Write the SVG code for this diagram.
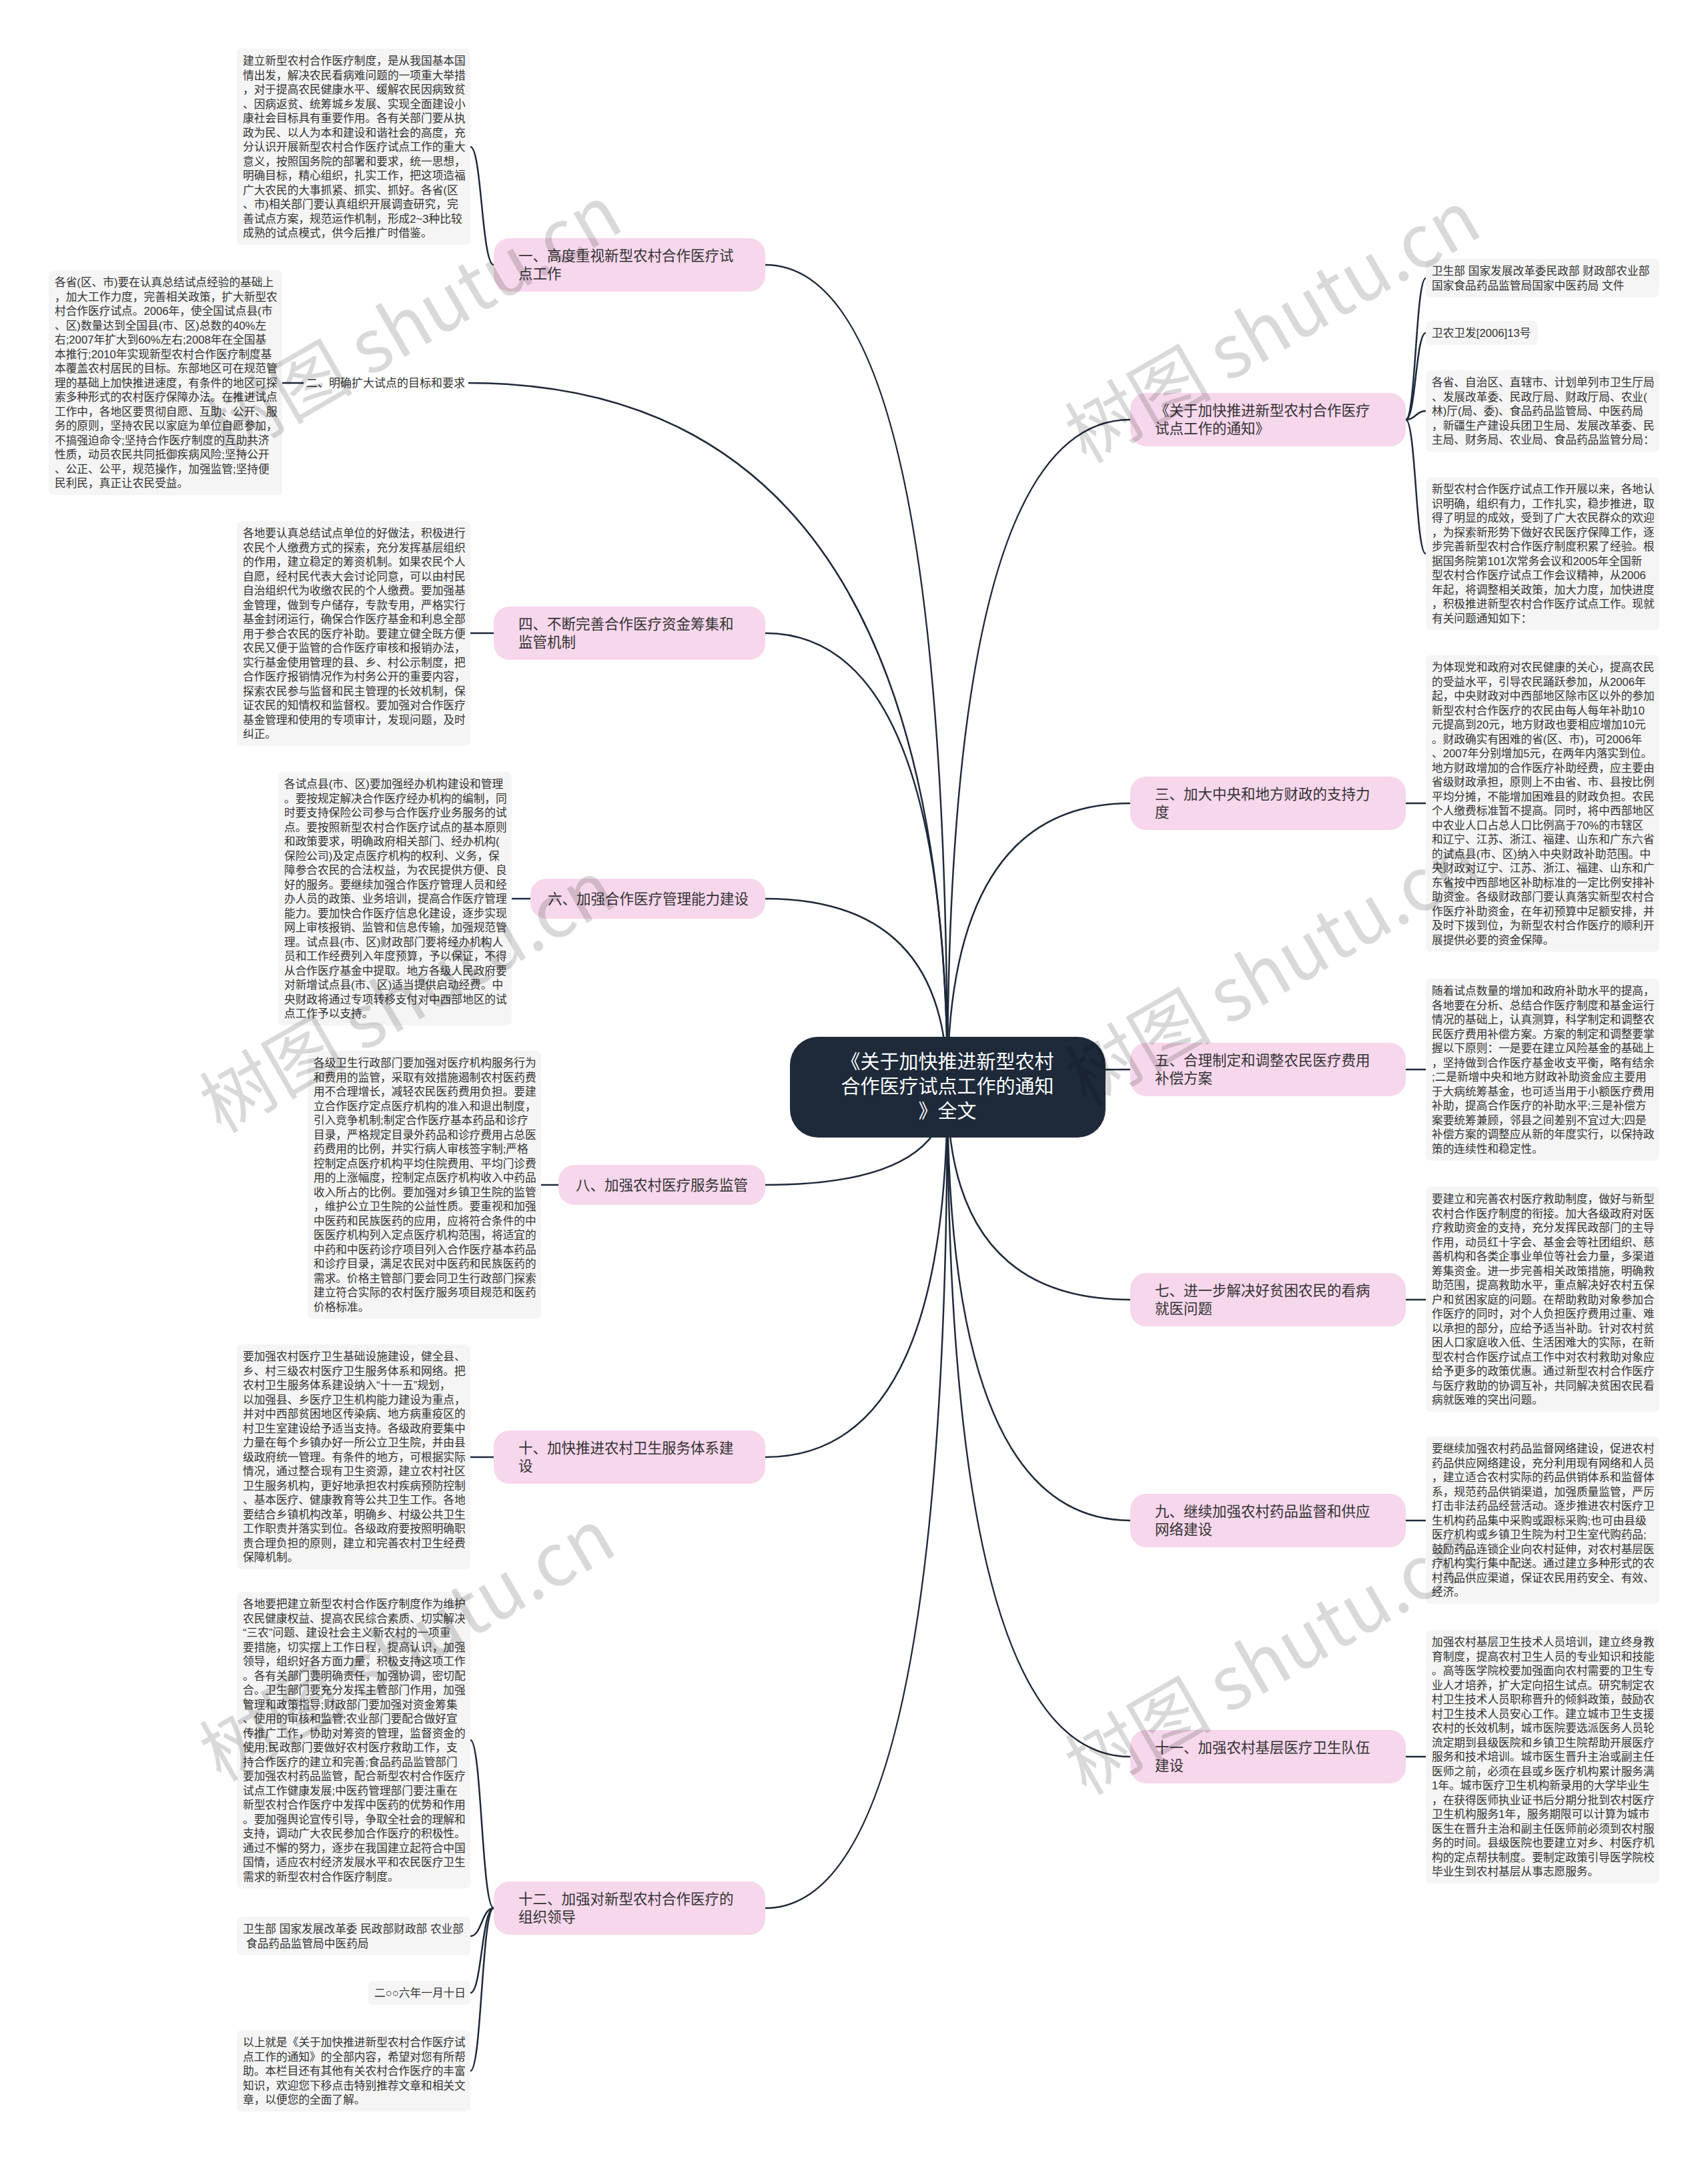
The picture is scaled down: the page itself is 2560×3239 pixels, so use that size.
<svg xmlns="http://www.w3.org/2000/svg" width="2560" height="3239" viewBox="0 0 2560 3239">
<defs>
<style>
.bg{fill:#ffffff}
.blk{fill:#f5f5f5}
.bt{font-family:'Liberation Sans','Noto Sans CJK SC',sans-serif;font-size:16.7px;fill:#333333}
.nd{fill:#f7d7ec}
.nt{font-family:'Liberation Sans','Noto Sans CJK SC',sans-serif;font-size:21.5px;fill:#333333}
.cn{fill:#1e2a3a}
.ct{font-family:'Liberation Sans','Noto Sans CJK SC',sans-serif;font-size:29px;fill:#ffffff;text-anchor:middle}
.ln{fill:none;stroke:#1e2a3a;stroke-width:2.5}
.wm{font-family:'Noto Sans CJK SC',sans-serif;font-size:110px;fill:#000000;fill-opacity:0.15}
</style>
</defs>
<rect class="bg" x="0" y="0" width="2560" height="3239"/>

<g id="connectors">
<path class="ln" d="M1420,1630 Q1420,397 1147,397"/>
<path class="ln" d="M1420,1630 Q1420,574 702,574"/>
<path class="ln" d="M1420,1630 Q1420,949 1147,949"/>
<path class="ln" d="M1420,1630 Q1420,1347 1147,1347"/>
<path class="ln" d="M1420,1630 Q1420,1776 1147,1776"/>
<path class="ln" d="M1420,1630 Q1420,2184 1147,2184"/>
<path class="ln" d="M1420,1630 Q1420,2860 1147,2860"/>
<path class="ln" d="M1420,1630 Q1420,629 1694,629"/>
<path class="ln" d="M1420,1630 Q1420,1204 1694,1204"/>
<path class="ln" d="M1420,1630 Q1420,1603 1694,1603"/>
<path class="ln" d="M1420,1630 Q1420,1948 1694,1948"/>
<path class="ln" d="M1420,1630 Q1420,2279 1694,2279"/>
<path class="ln" d="M1420,1630 Q1420,2633 1694,2633"/>
<path class="ln" d="M740,397 C722,397 722,220 705,220"/>
<path class="ln" d="M455,574 L423,574"/>
<path class="ln" d="M740,949 L705,949"/>
<path class="ln" d="M795,1347 L767,1347"/>
<path class="ln" d="M837,1776 L811,1776"/>
<path class="ln" d="M740,2184 L705,2184"/>
<path class="ln" d="M740,2860 C722,2860 722,2608 705,2608"/>
<path class="ln" d="M740,2860 C722,2860 722,2902 705,2902"/>
<path class="ln" d="M740,2860 C722,2860 722,2987 705,2987"/>
<path class="ln" d="M740,2860 C722,2860 722,3104 705,3104"/>
<path class="ln" d="M2107,629 C2122,629 2122,417 2137,417"/>
<path class="ln" d="M2107,629 C2122,629 2122,499 2137,499"/>
<path class="ln" d="M2107,629 C2122,629 2122,616 2137,616"/>
<path class="ln" d="M2107,629 C2122,629 2122,830 2137,830"/>
<path class="ln" d="M2107,1204 L2137,1204"/>
<path class="ln" d="M2107,1603 L2137,1603"/>
<path class="ln" d="M2107,1948 L2137,1948"/>
<path class="ln" d="M2107,2279 L2137,2279"/>
<path class="ln" d="M2107,2633 L2137,2633"/>
</g>

<g id="center">
<rect class="cn" x="1184" y="1554" width="473" height="151" rx="42"/>
<text class="ct"><tspan x="1420" y="1602">《关于加快推进新型农村</tspan><tspan x="1420" y="1639">合作医疗试点工作的通知</tspan><tspan x="1420" y="1676">》全文</tspan></text>
</g>

<g id="n1">
<rect class="nd" x="740" y="357" width="407" height="80" rx="24"/>
<text class="nt"><tspan x="777" y="391">一、高度重视新型农村合作医疗试</tspan><tspan x="777" y="418">点工作</tspan></text>
</g>
<g id="n1-t">
<rect class="blk" x="355" y="73" width="350" height="294" rx="7"/>
<text class="bt"><tspan x="364" y="97">建立新型农村合作医疗制度，是从我国基本国</tspan><tspan x="364" dy="21.5">情出发，解决农民看病难问题的一项重大举措</tspan><tspan x="364" dy="21.5">，对于提高农民健康水平、缓解农民因病致贫</tspan><tspan x="364" dy="21.5">、因病返贫、统筹城乡发展、实现全面建设小</tspan><tspan x="364" dy="21.5">康社会目标具有重要作用。各有关部门要从执</tspan><tspan x="364" dy="21.5">政为民、以人为本和建设和谐社会的高度，充</tspan><tspan x="364" dy="21.5">分认识开展新型农村合作医疗试点工作的重大</tspan><tspan x="364" dy="21.5">意义，按照国务院的部署和要求，统一思想，</tspan><tspan x="364" dy="21.5">明确目标，精心组织，扎实工作，把这项造福</tspan><tspan x="364" dy="21.5">广大农民的大事抓紧、抓实、抓好。各省(区</tspan><tspan x="364" dy="21.5">、市)相关部门要认真组织开展调查研究，完</tspan><tspan x="364" dy="21.5">善试点方案，规范运作机制，形成2~3种比较</tspan><tspan x="364" dy="21.5">成熟的试点模式，供今后推广时借鉴。</tspan></text>
</g>

<g id="n2">
<text class="bt" style="font-size:17px"><tspan x="459" y="580">二、明确扩大试点的目标和要求</tspan></text>
</g>
<g id="n2-t">
<rect class="blk" x="73" y="405" width="350" height="337" rx="7"/>
<text class="bt"><tspan x="82" y="429">各省(区、市)要在认真总结试点经验的基础上</tspan><tspan x="82" dy="21.5">，加大工作力度，完善相关政策，扩大新型农</tspan><tspan x="82" dy="21.5">村合作医疗试点。2006年，使全国试点县(市</tspan><tspan x="82" dy="21.5">、区)数量达到全国县(市、区)总数的40%左</tspan><tspan x="82" dy="21.5">右;2007年扩大到60%左右;2008年在全国基</tspan><tspan x="82" dy="21.5">本推行;2010年实现新型农村合作医疗制度基</tspan><tspan x="82" dy="21.5">本覆盖农村居民的目标。东部地区可在规范管</tspan><tspan x="82" dy="21.5">理的基础上加快推进速度，有条件的地区可探</tspan><tspan x="82" dy="21.5">索多种形式的农村医疗保障办法。在推进试点</tspan><tspan x="82" dy="21.5">工作中，各地区要贯彻自愿、互助、公开、服</tspan><tspan x="82" dy="21.5">务的原则，坚持农民以家庭为单位自愿参加，</tspan><tspan x="82" dy="21.5">不搞强迫命令;坚持合作医疗制度的互助共济</tspan><tspan x="82" dy="21.5">性质，动员农民共同抵御疾病风险;坚持公开</tspan><tspan x="82" dy="21.5">、公正、公平，规范操作，加强监管;坚持便</tspan><tspan x="82" dy="21.5">民利民，真正让农民受益。</tspan></text>
</g>

<g id="n4">
<rect class="nd" x="740" y="909" width="407" height="80" rx="24"/>
<text class="nt"><tspan x="777" y="943">四、不断完善合作医疗资金筹集和</tspan><tspan x="777" y="970">监管机制</tspan></text>
</g>
<g id="n4-t">
<rect class="blk" x="355" y="781" width="350" height="337" rx="7"/>
<text class="bt"><tspan x="364" y="805">各地要认真总结试点单位的好做法，积极进行</tspan><tspan x="364" dy="21.5">农民个人缴费方式的探索，充分发挥基层组织</tspan><tspan x="364" dy="21.5">的作用，建立稳定的筹资机制。如果农民个人</tspan><tspan x="364" dy="21.5">自愿，经村民代表大会讨论同意，可以由村民</tspan><tspan x="364" dy="21.5">自治组织代为收缴农民的个人缴费。要加强基</tspan><tspan x="364" dy="21.5">金管理，做到专户储存，专款专用，严格实行</tspan><tspan x="364" dy="21.5">基金封闭运行，确保合作医疗基金和利息全部</tspan><tspan x="364" dy="21.5">用于参合农民的医疗补助。要建立健全既方便</tspan><tspan x="364" dy="21.5">农民又便于监管的合作医疗审核和报销办法，</tspan><tspan x="364" dy="21.5">实行基金使用管理的县、乡、村公示制度，把</tspan><tspan x="364" dy="21.5">合作医疗报销情况作为村务公开的重要内容，</tspan><tspan x="364" dy="21.5">探索农民参与监督和民主管理的长效机制，保</tspan><tspan x="364" dy="21.5">证农民的知情权和监督权。要加强对合作医疗</tspan><tspan x="364" dy="21.5">基金管理和使用的专项审计，发现问题，及时</tspan><tspan x="364" dy="21.5">纠正。</tspan></text>
</g>

<g id="n6">
<rect class="nd" x="795" y="1317" width="352" height="60" rx="24"/>
<text class="nt"><tspan x="821" y="1355">六、加强合作医疗管理能力建设</tspan></text>
</g>
<g id="n6-t">
<rect class="blk" x="417" y="1157" width="350" height="380" rx="7"/>
<text class="bt"><tspan x="426" y="1181">各试点县(市、区)要加强经办机构建设和管理</tspan><tspan x="426" dy="21.5">。要按规定解决合作医疗经办机构的编制，同</tspan><tspan x="426" dy="21.5">时要支持保险公司参与合作医疗业务服务的试</tspan><tspan x="426" dy="21.5">点。要按照新型农村合作医疗试点的基本原则</tspan><tspan x="426" dy="21.5">和政策要求，明确政府相关部门、经办机构(</tspan><tspan x="426" dy="21.5">保险公司)及定点医疗机构的权利、义务，保</tspan><tspan x="426" dy="21.5">障参合农民的合法权益，为农民提供方便、良</tspan><tspan x="426" dy="21.5">好的服务。要继续加强合作医疗管理人员和经</tspan><tspan x="426" dy="21.5">办人员的政策、业务培训，提高合作医疗管理</tspan><tspan x="426" dy="21.5">能力。要加快合作医疗信息化建设，逐步实现</tspan><tspan x="426" dy="21.5">网上审核报销、监管和信息传输，加强规范管</tspan><tspan x="426" dy="21.5">理。试点县(市、区)财政部门要将经办机构人</tspan><tspan x="426" dy="21.5">员和工作经费列入年度预算，予以保证，不得</tspan><tspan x="426" dy="21.5">从合作医疗基金中提取。地方各级人民政府要</tspan><tspan x="426" dy="21.5">对新增试点县(市、区)适当提供启动经费。中</tspan><tspan x="426" dy="21.5">央财政将通过专项转移支付对中西部地区的试</tspan><tspan x="426" dy="21.5">点工作予以支持。</tspan></text>
</g>

<g id="n8">
<rect class="nd" x="837" y="1746" width="310" height="60" rx="24"/>
<text class="nt"><tspan x="863" y="1784">八、加强农村医疗服务监管</tspan></text>
</g>
<g id="n8-t">
<rect class="blk" x="461" y="1575" width="350" height="401.5" rx="7"/>
<text class="bt"><tspan x="470" y="1599">各级卫生行政部门要加强对医疗机构服务行为</tspan><tspan x="470" dy="21.5">和费用的监管，采取有效措施遏制农村医药费</tspan><tspan x="470" dy="21.5">用不合理增长，减轻农民医药费用负担。要建</tspan><tspan x="470" dy="21.5">立合作医疗定点医疗机构的准入和退出制度，</tspan><tspan x="470" dy="21.5">引入竞争机制;制定合作医疗基本药品和诊疗</tspan><tspan x="470" dy="21.5">目录，严格规定目录外药品和诊疗费用占总医</tspan><tspan x="470" dy="21.5">药费用的比例，并实行病人审核签字制;严格</tspan><tspan x="470" dy="21.5">控制定点医疗机构平均住院费用、平均门诊费</tspan><tspan x="470" dy="21.5">用的上涨幅度，控制定点医疗机构收入中药品</tspan><tspan x="470" dy="21.5">收入所占的比例。要加强对乡镇卫生院的监管</tspan><tspan x="470" dy="21.5">，维护公立卫生院的公益性质。要重视和加强</tspan><tspan x="470" dy="21.5">中医药和民族医药的应用，应将符合条件的中</tspan><tspan x="470" dy="21.5">医医疗机构列入定点医疗机构范围，将适宜的</tspan><tspan x="470" dy="21.5">中药和中医药诊疗项目列入合作医疗基本药品</tspan><tspan x="470" dy="21.5">和诊疗目录，满足农民对中医药和民族医药的</tspan><tspan x="470" dy="21.5">需求。价格主管部门要会同卫生行政部门探索</tspan><tspan x="470" dy="21.5">建立符合实际的农村医疗服务项目规范和医药</tspan><tspan x="470" dy="21.5">价格标准。</tspan></text>
</g>

<g id="n10">
<rect class="nd" x="740" y="2144" width="407" height="80" rx="24"/>
<text class="nt"><tspan x="777" y="2178">十、加快推进农村卫生服务体系建</tspan><tspan x="777" y="2205">设</tspan></text>
</g>
<g id="n10-t">
<rect class="blk" x="355" y="2015" width="350" height="337" rx="7"/>
<text class="bt"><tspan x="364" y="2039">要加强农村医疗卫生基础设施建设，健全县、</tspan><tspan x="364" dy="21.5">乡、村三级农村医疗卫生服务体系和网络。把</tspan><tspan x="364" dy="21.5">农村卫生服务体系建设纳入“十一五”规划，</tspan><tspan x="364" dy="21.5">以加强县、乡医疗卫生机构能力建设为重点，</tspan><tspan x="364" dy="21.5">并对中西部贫困地区传染病、地方病重疫区的</tspan><tspan x="364" dy="21.5">村卫生室建设给予适当支持。各级政府要集中</tspan><tspan x="364" dy="21.5">力量在每个乡镇办好一所公立卫生院，并由县</tspan><tspan x="364" dy="21.5">级政府统一管理。有条件的地方，可根据实际</tspan><tspan x="364" dy="21.5">情况，通过整合现有卫生资源，建立农村社区</tspan><tspan x="364" dy="21.5">卫生服务机构，更好地承担农村疾病预防控制</tspan><tspan x="364" dy="21.5">、基本医疗、健康教育等公共卫生工作。各地</tspan><tspan x="364" dy="21.5">要结合乡镇机构改革，明确乡、村级公共卫生</tspan><tspan x="364" dy="21.5">工作职责并落实到位。各级政府要按照明确职</tspan><tspan x="364" dy="21.5">责合理负担的原则，建立和完善农村卫生经费</tspan><tspan x="364" dy="21.5">保障机制。</tspan></text>
</g>

<g id="n12">
<rect class="nd" x="740" y="2820" width="407" height="80" rx="24"/>
<text class="nt"><tspan x="777" y="2854">十二、加强对新型农村合作医疗的</tspan><tspan x="777" y="2881">组织领导</tspan></text>
</g>
<g id="n12-t1">
<rect class="blk" x="355" y="2386" width="350" height="444.5" rx="7"/>
<text class="bt"><tspan x="364" y="2410">各地要把建立新型农村合作医疗制度作为维护</tspan><tspan x="364" dy="21.5">农民健康权益、提高农民综合素质、切实解决</tspan><tspan x="364" dy="21.5">“三农”问题、建设社会主义新农村的一项重</tspan><tspan x="364" dy="21.5">要措施，切实摆上工作日程，提高认识，加强</tspan><tspan x="364" dy="21.5">领导，组织好各方面力量，积极支持这项工作</tspan><tspan x="364" dy="21.5">。各有关部门要明确责任，加强协调，密切配</tspan><tspan x="364" dy="21.5">合。卫生部门要充分发挥主管部门作用，加强</tspan><tspan x="364" dy="21.5">管理和政策指导;财政部门要加强对资金筹集</tspan><tspan x="364" dy="21.5">、使用的审核和监管;农业部门要配合做好宣</tspan><tspan x="364" dy="21.5">传推广工作，协助对筹资的管理，监督资金的</tspan><tspan x="364" dy="21.5">使用;民政部门要做好农村医疗救助工作，支</tspan><tspan x="364" dy="21.5">持合作医疗的建立和完善;食品药品监管部门</tspan><tspan x="364" dy="21.5">要加强农村药品监管，配合新型农村合作医疗</tspan><tspan x="364" dy="21.5">试点工作健康发展;中医药管理部门要注重在</tspan><tspan x="364" dy="21.5">新型农村合作医疗中发挥中医药的优势和作用</tspan><tspan x="364" dy="21.5">。要加强舆论宣传引导，争取全社会的理解和</tspan><tspan x="364" dy="21.5">支持，调动广大农民参加合作医疗的积极性。</tspan><tspan x="364" dy="21.5">通过不懈的努力，逐步在我国建立起符合中国</tspan><tspan x="364" dy="21.5">国情，适应农村经济发展水平和农民医疗卫生</tspan><tspan x="364" dy="21.5">需求的新型农村合作医疗制度。</tspan></text>
</g>
<g id="n12-t2">
<rect class="blk" x="355" y="2873" width="350" height="57.5" rx="7"/>
<text class="bt"><tspan x="364" y="2897">卫生部 国家发展改革委 民政部财政部 农业部</tspan><tspan x="369" dy="21.5">食品药品监管局中医药局</tspan></text>
</g>
<g id="n12-t3">
<rect class="blk" x="552" y="2969" width="153" height="36" rx="7"/>
<text class="bt"><tspan x="561" y="2993">二○○六年一月十日</tspan></text>
</g>
<g id="n12-t4">
<rect class="blk" x="355" y="3043" width="350" height="122" rx="7"/>
<text class="bt"><tspan x="364" y="3067">以上就是《关于加快推进新型农村合作医疗试</tspan><tspan x="364" dy="21.5">点工作的通知》的全部内容，希望对您有所帮</tspan><tspan x="364" dy="21.5">助。本栏目还有其他有关农村合作医疗的丰富</tspan><tspan x="364" dy="21.5">知识，欢迎您下移点击特别推荐文章和相关文</tspan><tspan x="364" dy="21.5">章，以便您的全面了解。</tspan></text>
</g>

<g id="r1">
<rect class="nd" x="1694" y="589" width="413" height="80" rx="24"/>
<text class="nt"><tspan x="1731" y="623">《关于加快推进新型农村合作医疗</tspan><tspan x="1731" y="650">试点工作的通知》</tspan></text>
</g>
<g id="r1-t1">
<rect class="blk" x="2137" y="388" width="350" height="57.5" rx="7"/>
<text class="bt"><tspan x="2146" y="412">卫生部 国家发展改革委民政部 财政部农业部</tspan><tspan x="2146" dy="21.5">国家食品药品监管局国家中医药局 文件</tspan></text>
</g>
<g id="r1-t2">
<rect class="blk" x="2137" y="481" width="168" height="36" rx="7"/>
<text class="bt"><tspan x="2146" y="505">卫农卫发[2006]13号</tspan></text>
</g>
<g id="r1-t3">
<rect class="blk" x="2137" y="555" width="350" height="122" rx="7"/>
<text class="bt"><tspan x="2146" y="579">各省、自治区、直辖市、计划单列市卫生厅局</tspan><tspan x="2146" dy="21.5">、发展改革委、民政厅局、财政厅局、农业(</tspan><tspan x="2146" dy="21.5">林)厅(局、委)、食品药品监管局、中医药局</tspan><tspan x="2146" dy="21.5">，新疆生产建设兵团卫生局、发展改革委、民</tspan><tspan x="2146" dy="21.5">主局、财务局、农业局、食品药品监管分局：</tspan></text>
</g>
<g id="r1-t4">
<rect class="blk" x="2137" y="715" width="350" height="229.5" rx="7"/>
<text class="bt"><tspan x="2146" y="739">新型农村合作医疗试点工作开展以来，各地认</tspan><tspan x="2146" dy="21.5">识明确，组织有力，工作扎实，稳步推进，取</tspan><tspan x="2146" dy="21.5">得了明显的成效，受到了广大农民群众的欢迎</tspan><tspan x="2146" dy="21.5">，为探索新形势下做好农民医疗保障工作，逐</tspan><tspan x="2146" dy="21.5">步完善新型农村合作医疗制度积累了经验。根</tspan><tspan x="2146" dy="21.5">据国务院第101次常务会议和2005年全国新</tspan><tspan x="2146" dy="21.5">型农村合作医疗试点工作会议精神，从2006</tspan><tspan x="2146" dy="21.5">年起，将调整相关政策，加大力度，加快进度</tspan><tspan x="2146" dy="21.5">，积极推进新型农村合作医疗试点工作。现就</tspan><tspan x="2146" dy="21.5">有关问题通知如下：</tspan></text>
</g>

<g id="r3">
<rect class="nd" x="1694" y="1164" width="413" height="80" rx="24"/>
<text class="nt"><tspan x="1731" y="1198">三、加大中央和地方财政的支持力</tspan><tspan x="1731" y="1225">度</tspan></text>
</g>
<g id="r3-t">
<rect class="blk" x="2137" y="982" width="350" height="444.5" rx="7"/>
<text class="bt"><tspan x="2146" y="1006">为体现党和政府对农民健康的关心，提高农民</tspan><tspan x="2146" dy="21.5">的受益水平，引导农民踊跃参加，从2006年</tspan><tspan x="2146" dy="21.5">起，中央财政对中西部地区除市区以外的参加</tspan><tspan x="2146" dy="21.5">新型农村合作医疗的农民由每人每年补助10</tspan><tspan x="2146" dy="21.5">元提高到20元，地方财政也要相应增加10元</tspan><tspan x="2146" dy="21.5">。财政确实有困难的省(区、市)，可2006年</tspan><tspan x="2146" dy="21.5">、2007年分别增加5元，在两年内落实到位。</tspan><tspan x="2146" dy="21.5">地方财政增加的合作医疗补助经费，应主要由</tspan><tspan x="2146" dy="21.5">省级财政承担，原则上不由省、市、县按比例</tspan><tspan x="2146" dy="21.5">平均分摊，不能增加困难县的财政负担。农民</tspan><tspan x="2146" dy="21.5">个人缴费标准暂不提高。同时，将中西部地区</tspan><tspan x="2146" dy="21.5">中农业人口占总人口比例高于70%的市辖区</tspan><tspan x="2146" dy="21.5">和辽宁、江苏、浙江、福建、山东和广东六省</tspan><tspan x="2146" dy="21.5">的试点县(市、区)纳入中央财政补助范围。中</tspan><tspan x="2146" dy="21.5">央财政对辽宁、江苏、浙江、福建、山东和广</tspan><tspan x="2146" dy="21.5">东省按中西部地区补助标准的一定比例安排补</tspan><tspan x="2146" dy="21.5">助资金。各级财政部门要认真落实新型农村合</tspan><tspan x="2146" dy="21.5">作医疗补助资金，在年初预算中足额安排，并</tspan><tspan x="2146" dy="21.5">及时下拨到位，为新型农村合作医疗的顺利开</tspan><tspan x="2146" dy="21.5">展提供必要的资金保障。</tspan></text>
</g>

<g id="r5">
<rect class="nd" x="1694" y="1563" width="413" height="80" rx="24"/>
<text class="nt"><tspan x="1731" y="1597">五、合理制定和调整农民医疗费用</tspan><tspan x="1731" y="1624">补偿方案</tspan></text>
</g>
<g id="r5-t">
<rect class="blk" x="2137" y="1467" width="350" height="272.5" rx="7"/>
<text class="bt"><tspan x="2146" y="1491">随着试点数量的增加和政府补助水平的提高，</tspan><tspan x="2146" dy="21.5">各地要在分析、总结合作医疗制度和基金运行</tspan><tspan x="2146" dy="21.5">情况的基础上，认真测算，科学制定和调整农</tspan><tspan x="2146" dy="21.5">民医疗费用补偿方案。方案的制定和调整要掌</tspan><tspan x="2146" dy="21.5">握以下原则：一是要在建立风险基金的基础上</tspan><tspan x="2146" dy="21.5">，坚持做到合作医疗基金收支平衡，略有结余</tspan><tspan x="2146" dy="21.5">;二是新增中央和地方财政补助资金应主要用</tspan><tspan x="2146" dy="21.5">于大病统筹基金，也可适当用于小额医疗费用</tspan><tspan x="2146" dy="21.5">补助，提高合作医疗的补助水平;三是补偿方</tspan><tspan x="2146" dy="21.5">案要统筹兼顾，邻县之间差别不宜过大;四是</tspan><tspan x="2146" dy="21.5">补偿方案的调整应从新的年度实行，以保持政</tspan><tspan x="2146" dy="21.5">策的连续性和稳定性。</tspan></text>
</g>

<g id="r7">
<rect class="nd" x="1694" y="1908" width="413" height="80" rx="24"/>
<text class="nt"><tspan x="1731" y="1942">七、进一步解决好贫困农民的看病</tspan><tspan x="1731" y="1969">就医问题</tspan></text>
</g>
<g id="r7-t">
<rect class="blk" x="2137" y="1779" width="350" height="337" rx="7"/>
<text class="bt"><tspan x="2146" y="1803">要建立和完善农村医疗救助制度，做好与新型</tspan><tspan x="2146" dy="21.5">农村合作医疗制度的衔接。加大各级政府对医</tspan><tspan x="2146" dy="21.5">疗救助资金的支持，充分发挥民政部门的主导</tspan><tspan x="2146" dy="21.5">作用，动员红十字会、基金会等社团组织、慈</tspan><tspan x="2146" dy="21.5">善机构和各类企事业单位等社会力量，多渠道</tspan><tspan x="2146" dy="21.5">筹集资金。进一步完善相关政策措施，明确救</tspan><tspan x="2146" dy="21.5">助范围，提高救助水平，重点解决好农村五保</tspan><tspan x="2146" dy="21.5">户和贫困家庭的问题。在帮助救助对象参加合</tspan><tspan x="2146" dy="21.5">作医疗的同时，对个人负担医疗费用过重、难</tspan><tspan x="2146" dy="21.5">以承担的部分，应给予适当补助。针对农村贫</tspan><tspan x="2146" dy="21.5">困人口家庭收入低、生活困难大的实际，在新</tspan><tspan x="2146" dy="21.5">型农村合作医疗试点工作中对农村救助对象应</tspan><tspan x="2146" dy="21.5">给予更多的政策优惠。通过新型农村合作医疗</tspan><tspan x="2146" dy="21.5">与医疗救助的协调互补，共同解决贫困农民看</tspan><tspan x="2146" dy="21.5">病就医难的突出问题。</tspan></text>
</g>

<g id="r9">
<rect class="nd" x="1694" y="2239" width="413" height="80" rx="24"/>
<text class="nt"><tspan x="1731" y="2273">九、继续加强农村药品监督和供应</tspan><tspan x="1731" y="2300">网络建设</tspan></text>
</g>
<g id="r9-t">
<rect class="blk" x="2137" y="2153" width="350" height="251" rx="7"/>
<text class="bt"><tspan x="2146" y="2177">要继续加强农村药品监督网络建设，促进农村</tspan><tspan x="2146" dy="21.5">药品供应网络建设，充分利用现有网络和人员</tspan><tspan x="2146" dy="21.5">，建立适合农村实际的药品供销体系和监督体</tspan><tspan x="2146" dy="21.5">系，规范药品供销渠道，加强质量监管，严厉</tspan><tspan x="2146" dy="21.5">打击非法药品经营活动。逐步推进农村医疗卫</tspan><tspan x="2146" dy="21.5">生机构药品集中采购或跟标采购;也可由县级</tspan><tspan x="2146" dy="21.5">医疗机构或乡镇卫生院为村卫生室代购药品;</tspan><tspan x="2146" dy="21.5">鼓励药品连锁企业向农村延伸，对农村基层医</tspan><tspan x="2146" dy="21.5">疗机构实行集中配送。通过建立多种形式的农</tspan><tspan x="2146" dy="21.5">村药品供应渠道，保证农民用药安全、有效、</tspan><tspan x="2146" dy="21.5">经济。</tspan></text>
</g>

<g id="r11">
<rect class="nd" x="1694" y="2593" width="413" height="80" rx="24"/>
<text class="nt"><tspan x="1731" y="2627">十一、加强农村基层医疗卫生队伍</tspan><tspan x="1731" y="2654">建设</tspan></text>
</g>
<g id="r11-t">
<rect class="blk" x="2137" y="2443" width="350" height="380" rx="7"/>
<text class="bt"><tspan x="2146" y="2467">加强农村基层卫生技术人员培训，建立终身教</tspan><tspan x="2146" dy="21.5">育制度，提高农村卫生人员的专业知识和技能</tspan><tspan x="2146" dy="21.5">。高等医学院校要加强面向农村需要的卫生专</tspan><tspan x="2146" dy="21.5">业人才培养，扩大定向招生试点。研究制定农</tspan><tspan x="2146" dy="21.5">村卫生技术人员职称晋升的倾斜政策，鼓励农</tspan><tspan x="2146" dy="21.5">村卫生技术人员安心工作。建立城市卫生支援</tspan><tspan x="2146" dy="21.5">农村的长效机制，城市医院要选派医务人员轮</tspan><tspan x="2146" dy="21.5">流定期到县级医院和乡镇卫生院帮助开展医疗</tspan><tspan x="2146" dy="21.5">服务和技术培训。城市医生晋升主治或副主任</tspan><tspan x="2146" dy="21.5">医师之前，必须在县或乡医疗机构累计服务满</tspan><tspan x="2146" dy="21.5">1年。城市医疗卫生机构新录用的大学毕业生</tspan><tspan x="2146" dy="21.5">，在获得医师执业证书后分期分批到农村医疗</tspan><tspan x="2146" dy="21.5">卫生机构服务1年，服务期限可以计算为城市</tspan><tspan x="2146" dy="21.5">医生在晋升主治和副主任医师前必须到农村服</tspan><tspan x="2146" dy="21.5">务的时间。县级医院也要建立对乡、村医疗机</tspan><tspan x="2146" dy="21.5">构的定点帮扶制度。要制定政策引导医学院校</tspan><tspan x="2146" dy="21.5">毕业生到农村基层从事志愿服务。</tspan></text>
</g>

<g id="watermarks">
<text class="wm" transform="translate(341,688) rotate(-30)">树图 shutu.cn</text>
<text class="wm" transform="translate(1628,696) rotate(-30)">树图 shutu.cn</text>
<text class="wm" transform="translate(331,1700) rotate(-30)">树图 shutu.cn</text>
<text class="wm" transform="translate(1628,1660) rotate(-30)">树图 shutu.cn</text>
<text class="wm" transform="translate(331,2672) rotate(-30)">树图 shutu.cn</text>
<text class="wm" transform="translate(1628,2692) rotate(-30)">树图 shutu.cn</text>
</g>
</svg>
